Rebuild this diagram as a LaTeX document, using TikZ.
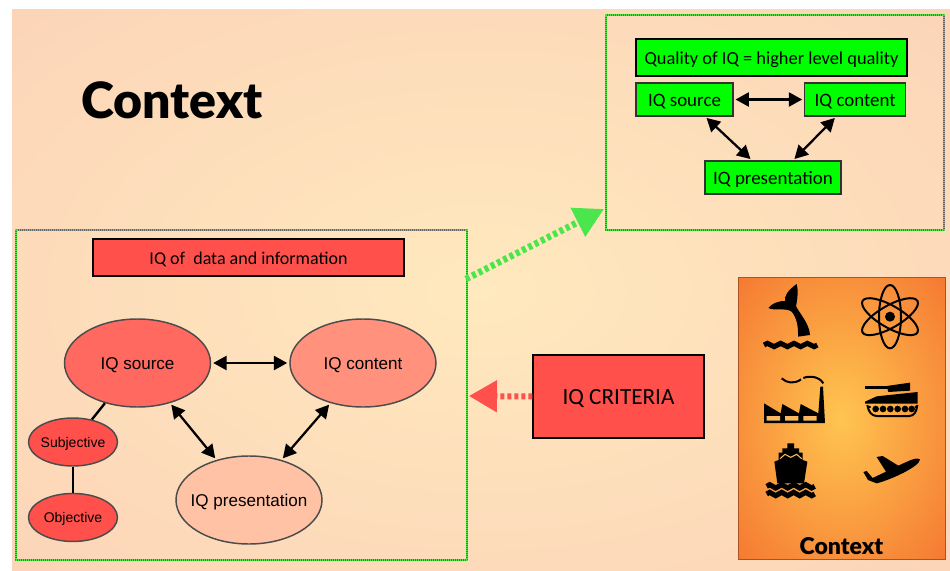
\documentclass[tikz,border=0pt]{standalone}
\usepackage{fontspec}
\setmainfont{Carlito}[BoldFont={Lato Black}]
\newfontfamily\ellipsefont{Liberation Sans}
\usetikzlibrary{positioning, shapes.geometric, arrows.meta}

\definecolor{slidecentre}{RGB}{255,233,190}
\definecolor{slideedge}{RGB}{252,212,184}
\definecolor{panelcentre}{RGB}{255,197,80}
\definecolor{paneledge}{RGB}{245,120,50}
\definecolor{framegreen}{RGB}{80,225,70}
\definecolor{arrowgreen}{RGB}{75,230,75}
\definecolor{boxred}{RGB}{255,80,75}
\definecolor{panelwindow}{RGB}{250,185,95}

\pgfdeclareradialshading{slideglow}{\pgfpoint{0bp}{0bp}}{color(0bp)=(slidecentre); color(36bp)=(slideedge); color(50bp)=(slideedge)}
\pgfdeclareradialshading{panelglow}{\pgfpoint{0bp}{0bp}}{color(0bp)=(panelcentre); color(36bp)=(paneledge); color(50bp)=(paneledge)}

\newcommand{\wavyband}[4]{\draw[wavestroke] (#1,#2) \foreach \w in {1,...,#3} { -- ++(0,0) sin ++(#4,-5) cos ++(#4,5) sin ++(#4,5) cos ++(#4,-5)};}
\newcommand{\ctext}[1]{\makebox[0pt]{#1}}

\begin{document}
\begin{tikzpicture}[
        x=0.75pt, y=-0.75pt,
        every node/.style={inner sep=0pt, text=black},
        framebox/.style={draw=framegreen, line width=2.2pt, dash pattern=on 0.9pt off 0.6pt, rectangle, preaction={draw=black!60, line width=0.9pt, solid}},
        greenbox/.style={draw=black!80, fill=green, line width=0.8pt, minimum height=33*0.75pt, text height=10.2pt, text depth=0pt, font=\fontsize{14.2}{16}\selectfont},
        redbox/.style={draw=black, fill=boxred, line width=0.8pt, text height=10.2pt, text depth=0pt},
        bubble/.style={ellipse, draw=black!70, line width=1.1pt, minimum width=146*0.75pt, minimum height=88*0.75pt, text height=10pt, text depth=0pt, font=\ellipsefont\fontsize{12.8}{16}\selectfont},
        smallbubble/.style={ellipse, draw=black!70, fill=boxred, line width=1.1pt, minimum width=89*0.75pt, minimum height=48*0.75pt, text height=7.8pt, text depth=0pt, font=\ellipsefont\fontsize{10.5}{12}\selectfont},
        link/.style={{Triangle[length=10pt,width=10.5pt]}-{Triangle[length=10pt,width=10.5pt]}, line width=1.7pt, shorten <=1.5pt, shorten >=1.5pt},
        plainlink/.style={line width=1.8pt},
        bigarrow/.style={line width=4.5pt, dash pattern=on 3pt off 2.25pt},
        iconspace/.style={shift={(730,270)}, x=0.25pt, y=-0.25pt},
        wavestroke/.style={line width=3.8pt},
        iconstroke/.style={line width=1.5pt}
    ]

    \useasboundingbox (0,0) rectangle (950,571);
    \fill[white] (0,0) rectangle (950,571);
    \path[shading=slideglow] (12,9) rectangle (950,571);

    \node[font=\bfseries\fontsize{37.5}{44}\selectfont, anchor=center] (title) at (172,100) {Context};

    % right frame
    \node[framebox, minimum width=338*0.75pt, minimum height=215*0.75pt] (qualityframe) at (775,122.5) {};
    \node[greenbox, draw=black, line width=1.3pt, minimum width=271*0.75pt, minimum height=37*0.75pt, font=\fontsize{13.8}{16}\selectfont] (quality) at (771.5,57.5) {\ctext{Quality of IQ = higher level quality}};
    \node[greenbox, minimum width=97*0.75pt] (qsource) at (684.5,99.5) {IQ source};
    \node[greenbox, minimum width=101*0.75pt, right=53pt of qsource] (qcontent) {IQ content};
    \node[greenbox, minimum width=136*0.75pt] (qpresentation) at (773,177.5) {IQ presentation};

    \draw[link] (qsource) -- (qcontent);
    \draw[link] ([xshift=15.4pt]qsource.south) -- ([xshift=-15.75pt]qpresentation.north);
    \draw[link] ([xshift=-14.25pt]qcontent.south) -- ([xshift=15pt]qpresentation.north);

    % left frame
    \node[framebox, minimum width=451*0.75pt, minimum height=330*0.75pt] (infoframe) at (241.5,395) {};
    \node[redbox, minimum width=311*0.75pt, minimum height=37*0.75pt, font=\fontsize{13.5}{16}\selectfont] (infotitle) at (248.5,257.5) {IQ of~ data and information};

    \node[bubble, fill={rgb,255:red,255;green,105;blue,95}] (source) at (137.5,363) {\ctext{IQ source}};
    \node[bubble, fill={rgb,255:red,255;green,145;blue,125}, right=78*0.75pt of source] (content) {\ctext{IQ content}};
    \node[bubble, fill={rgb,255:red,255;green,194;blue,165}] (presentation) at (249,500) {\ctext{IQ presentation}};
    \node[smallbubble] (subjective) at (73,442) {\ctext{Subjective}};
    \node[smallbubble, below=26*0.75pt of subjective] (objective) {\ctext{Objective}};

    \draw[link] (source) -- (content);
    \draw[link] (source.-51) -- (presentation.129);
    \draw[link] (content.-129) -- (presentation.51);
    \draw[plainlink] (source.-129) -- (subjective.50);
    \draw[plainlink] (subjective) -- (objective);

    % criteria box and big arrows
    \node[redbox, minimum width=171*0.75pt, minimum height=83*0.75pt, text height=11.5pt, font=\fontsize{17.4}{20}\selectfont] (criteria) at (618.5,396.5) {IQ CRITERIA};
    \coordinate (criteriatip) at (469,396);
    \draw[bigarrow, boxred, -{Triangle[length=21pt,width=23pt]}] (criteria.west) -- (criteriatip);

    \coordinate (greenstart) at (466,279);
    \coordinate (greentip) at (604,209);
    \draw[bigarrow, line width=5pt, arrowgreen, -{Triangle[length=22pt,width=23pt]}] (greenstart) -- (greentip);

    % context panel
    \node[draw=black!30!paneledge, line width=0.6pt, shading=panelglow, minimum width=207*0.75pt, minimum height=282*0.75pt] (panel) at (841.5,418) {};
    \node[font=\bfseries\fontsize{17.3}{18}\selectfont] (paneltitle) at (841.5,546) {Context};

    \begin{scope}[iconspace]
        % tail
        \fill (200,42) .. controls (172,62) and (163,78) .. (165,93) .. controls (148,92) and (125,100) .. (115,114) .. controls (135,124) and (168,112) .. (185,125) .. controls (202,145) and (205,175) .. (204,200) -- (240,195) .. controls (238,160) and (208,130) .. (198,108) .. controls (203,85) and (205,60) .. (200,42) -- cycle;
        \wavyband{102}{225}{4}{10}

        % atom
        \fill (480,140) circle (15);
        \foreach \ang in {0,60,-60}
            \draw[iconstroke, rotate around={\ang:(480,140)}] (480,140) ellipse (33 and 95);

        % factory
        \fill (102,400) -- (152,430) -- (157,402) -- (207,430) -- (212,402) -- (265,430) -- (271,350) -- (279,350) -- (285,459) -- (102,459) -- cycle;
        \fill[panelwindow] (110,438) rectangle (150,452) (165,438) rectangle (205,452) (220,438) rectangle (260,452);
        \draw[iconstroke] (155,325) .. controls (170,340) and (195,342) .. (213,328);
        \draw[iconstroke] (220,324) .. controls (240,316) and (268,320) .. (280,340);

        % tank
        \fill (405,349) rectangle (475,358);
        \fill (470,348) -- (540,338) -- (540,362) -- (475,366) -- cycle;
        \fill (405,395) -- (440,379) -- (563,366) -- (563,401) -- (405,401) -- cycle;
        \draw[iconstroke] (412,405) .. controls (415,425) and (425,438) .. (440,438) -- (538,438) .. controls (552,438) and (560,425) .. (562,405);
        \foreach \wheel in {437,459,481,503,525,545}
            \fill (\wheel,417) circle (10);
        \fill (419,411) circle (4) (557,411) circle (4);

        % ship
        \fill (172,520) -- (192,520) -- (192,535) -- (207,535) -- (207,548) -- (218,548) -- (218,570) -- (232,575) -- (222,640) -- (142,640) -- (133,575) -- (146,570) -- (146,548) -- (157,548) -- (157,535) -- (172,535) -- cycle;
        \draw[panelwindow, line width=0.8pt] (150,566) -- (165,553) -- (182,562) -- (200,553) -- (215,566);
        \wavyband{110}{649}{4}{9}
        \wavyband{110}{672}{4}{9}

        % plane
        \fill (570,568) .. controls (560,562) and (545,568) .. (505,587) -- (458,558) -- (440,561) -- (468,605) -- (428,624) -- (410,603) -- (400,606) -- (414,630) -- (440,640) .. controls (480,630) and (570,590) .. (570,568) -- cycle;
    \end{scope}

\end{tikzpicture}
\end{document}
